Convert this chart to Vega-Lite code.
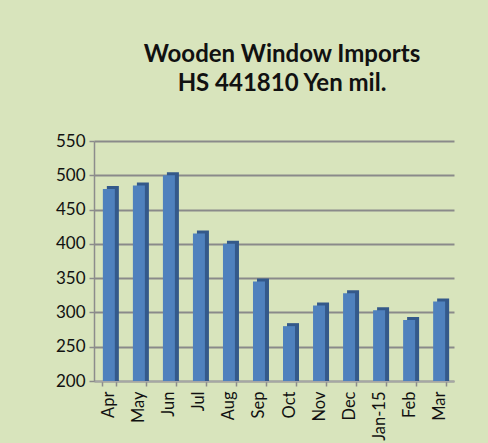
{
  "$schema": "https://vega.github.io/schema/vega-lite/v6.json",
  "autosize": "none",
  "width": 360,
  "height": 240,
  "padding": {"left": 94, "top": 141, "right": 34, "bottom": 62},
  "background": "#D8E4BC",
  "title": {
    "text": ["Wooden Window Imports", "HS 441810 Yen mil."],
    "font": "Lato",
    "fontSize": 24,
    "fontWeight": "bold",
    "color": "#111111",
    "lineHeight": 29,
    "anchor": "middle",
    "dx": 8,
    "offset": 36
  },
  "data": {
    "values": [
      {"month": "Apr", "value": 480},
      {"month": "May", "value": 485},
      {"month": "Jun", "value": 500},
      {"month": "Jul", "value": 415},
      {"month": "Aug", "value": 400},
      {"month": "Sep", "value": 345},
      {"month": "Oct", "value": 280},
      {"month": "Nov", "value": 310},
      {"month": "Dec", "value": 328},
      {"month": "Jan-15", "value": 303},
      {"month": "Feb", "value": 289},
      {"month": "Mar", "value": 316}
    ]
  },
  "encoding": {
    "x": {
      "field": "month",
      "type": "nominal",
      "sort": null,
      "title": null,
      "scale": {"paddingInner": 0.55, "paddingOuter": 0.27},
      "axis": {
        "labelAngle": -90,
        "labelAlign": "right",
        "labelBaseline": "middle",
        "labelFont": "Lato",
        "labelFontSize": 16.5,
        "labelColor": "#111111",
        "labelPadding": 5,
        "tickBand": "extent",
        "tickColor": "#8c8c8c",
        "tickSize": 5,
        "tickWidth": 1.5,
        "domainColor": "#a6a6a6",
        "domainWidth": 1.5
      }
    },
    "y": {
      "field": "value",
      "type": "quantitative",
      "title": null,
      "scale": {"domain": [200, 550], "zero": false, "nice": false},
      "axis": {
        "values": [200, 250, 300, 350, 400, 450, 500, 550],
        "labelFont": "Lato",
        "labelFontSize": 17,
        "labelColor": "#111111",
        "labelPadding": 4,
        "tickColor": "#8c8c8c",
        "tickSize": 5,
        "tickWidth": 1.5,
        "domainColor": "#8c8c8c",
        "domainWidth": 1.5,
        "grid": true,
        "gridColor": "#8a8a8a",
        "gridWidth": 2
      }
    }
  },
  "layer": [
    {
      "mark": {"type": "bar", "color": "#34598A", "xOffset": 4, "yOffset": -3, "width": 12},
      "encoding": {"y": {"field": "value", "type": "quantitative"}, "y2": {"datum": 200}}
    },
    {
      "mark": {"type": "bar", "color": "#4F81BD", "width": 12},
      "encoding": {"y": {"field": "value", "type": "quantitative"}, "y2": {"datum": 200}}
    }
  ],
  "config": {"view": {"stroke": null}}
}
